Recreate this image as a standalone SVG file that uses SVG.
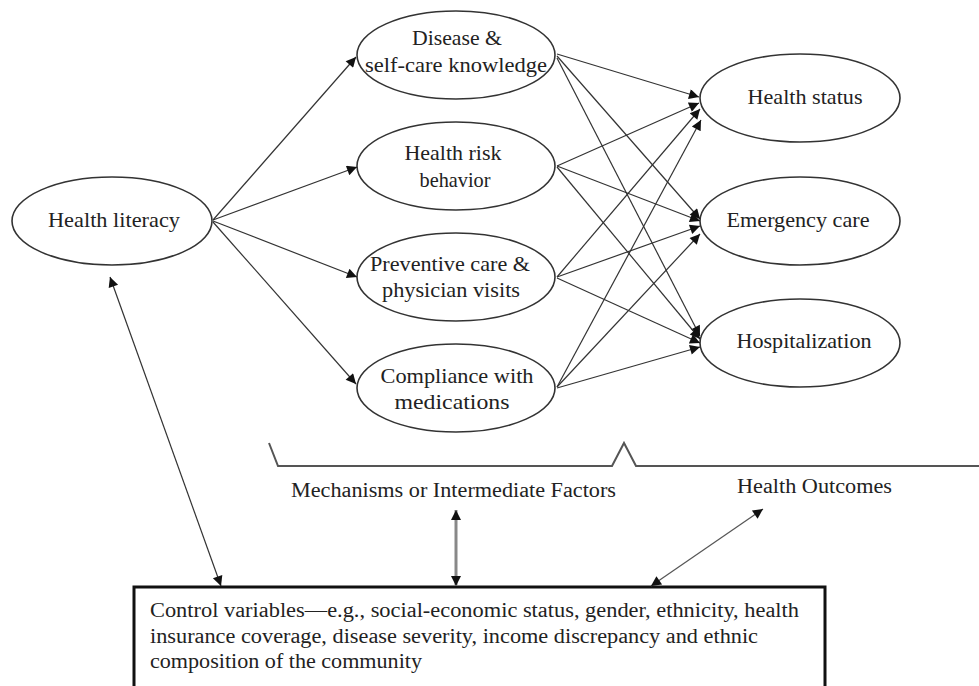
<svg xmlns="http://www.w3.org/2000/svg" width="979" height="686" viewBox="0 0 979 686">
<defs>
<marker id="ah" viewBox="0 0 10 10" refX="10" refY="5" markerWidth="14" markerHeight="10" markerUnits="userSpaceOnUse" orient="auto-start-reverse">
<path d="M0,0 L10,5 L0,10 z" fill="#111"/>
</marker>
</defs>
<style>
.node ellipse{fill:#fff;stroke:#333;stroke-width:1.6}
.t{font-family:"Liberation Serif","Times New Roman",serif;font-size:21px;fill:#222;text-anchor:middle}
.tl{font-family:"Liberation Serif","Times New Roman",serif;font-size:20px;fill:#222}
.c line{stroke:#333;stroke-width:1.2;marker-end:url(#ah)}
.c line.d{marker-start:url(#ah)}
</style>
<rect width="979" height="686" fill="#fff"/>
<g id="health-literacy" class="node"><ellipse cx="112" cy="221" rx="100" ry="44"/><text class="t" x="114" y="227" textLength="132" lengthAdjust="spacingAndGlyphs">Health literacy</text></g>
<g id="disease" class="node"><ellipse cx="456" cy="55" rx="99" ry="44"/><text class="t" x="457" y="45" textLength="90" lengthAdjust="spacingAndGlyphs">Disease &amp;</text><text class="t" x="456" y="72" textLength="182" lengthAdjust="spacingAndGlyphs">self-care knowledge</text></g>
<g id="health-risk" class="node"><ellipse cx="456" cy="166" rx="99" ry="44"/><text class="t" x="453" y="160" textLength="97" lengthAdjust="spacingAndGlyphs">Health risk</text><text class="t" x="455" y="187" textLength="71" lengthAdjust="spacingAndGlyphs">behavior</text></g>
<g id="preventive" class="node"><ellipse cx="456" cy="277" rx="99" ry="44"/><text class="t" x="450" y="271" textLength="160" lengthAdjust="spacingAndGlyphs">Preventive care &amp;</text><text class="t" x="451" y="297" textLength="138" lengthAdjust="spacingAndGlyphs">physician visits</text></g>
<g id="compliance" class="node"><ellipse cx="456" cy="388" rx="99" ry="44"/><text class="t" x="457" y="383" textLength="153" lengthAdjust="spacingAndGlyphs">Compliance with</text><text class="t" x="452" y="409" textLength="115" lengthAdjust="spacingAndGlyphs">medications</text></g>
<g id="health-status" class="node"><ellipse cx="800" cy="98" rx="100" ry="44"/><text class="t" x="805" y="104" textLength="115" lengthAdjust="spacingAndGlyphs">Health status</text></g>
<g id="emergency" class="node"><ellipse cx="800" cy="221" rx="100" ry="44"/><text class="t" x="798" y="227" textLength="143" lengthAdjust="spacingAndGlyphs">Emergency care</text></g>
<g id="hospitalization" class="node"><ellipse cx="800" cy="343" rx="100" ry="44"/><text class="t" x="804" y="348" textLength="135" lengthAdjust="spacingAndGlyphs">Hospitalization</text></g>
<g id="control" class="node"><rect x="134" y="587" width="691" height="110" fill="#fff" stroke="#111" stroke-width="3"/>
<text class="tl" x="150" y="617" textLength="649" lengthAdjust="spacingAndGlyphs">Control variables—e.g., social-economic status, gender, ethnicity, health</text>
<text class="tl" x="150" y="643" textLength="608" lengthAdjust="spacingAndGlyphs">insurance coverage, disease severity, income discrepancy and ethnic</text>
<text class="tl" x="150" y="668" textLength="272" lengthAdjust="spacingAndGlyphs">composition of the community</text></g>
<g id="labels">
<path d="M269,443 L278,466 L612,466 L624,443 L636,466 L979,466" fill="none" stroke="#555" stroke-width="2"/>
<text class="tl" x="291" y="497" textLength="325" lengthAdjust="spacingAndGlyphs">Mechanisms or Intermediate Factors</text>
<text class="tl" x="737" y="493" textLength="155" lengthAdjust="spacingAndGlyphs">Health Outcomes</text>
</g>
<g id="connectors" class="c">
<line x1="213" y1="220" x2="356" y2="57"/>
<line x1="213" y1="220" x2="357" y2="167"/>
<line x1="213" y1="221" x2="357" y2="277"/>
<line x1="213" y1="222" x2="356" y2="384"/>
<line x1="557" y1="54" x2="699" y2="97"/>
<line x1="557" y1="56" x2="700" y2="219"/>
<line x1="557" y1="58" x2="700" y2="336"/>
<line x1="557" y1="166" x2="699" y2="103"/>
<line x1="557" y1="166" x2="700" y2="221"/>
<line x1="557" y1="167" x2="700" y2="339"/>
<line x1="557" y1="277" x2="700" y2="109"/>
<line x1="557" y1="277" x2="700" y2="226"/>
<line x1="557" y1="278" x2="700" y2="343"/>
<line x1="557" y1="387" x2="701" y2="120"/>
<line x1="557" y1="387" x2="700" y2="234"/>
<line x1="557" y1="388" x2="700" y2="347"/>
<line class="d" x1="110" y1="277" x2="221" y2="586"/>
<line class="d" x1="456" y1="510" x2="456" y2="586" style="stroke:#888;stroke-width:3"/>
<line class="d" x1="763" y1="509" x2="651" y2="586" style="stroke:#555"/>
</g>
</svg>
